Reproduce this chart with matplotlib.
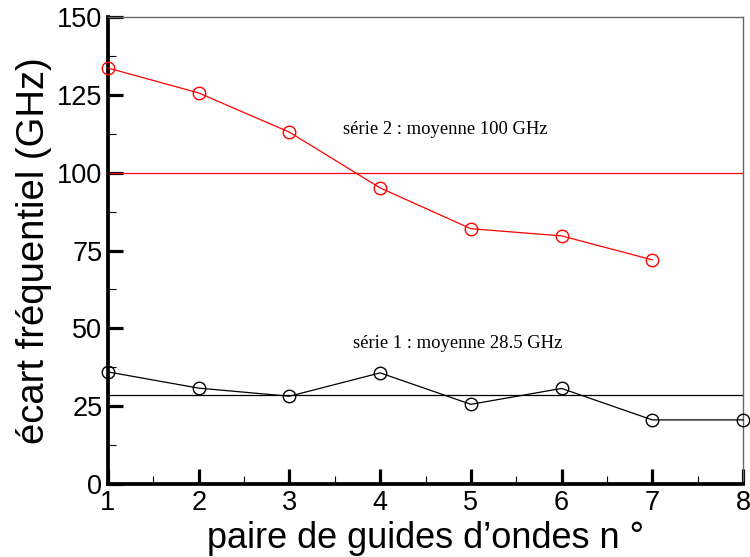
import matplotlib
matplotlib.use("Agg")
import matplotlib.pyplot as plt
from matplotlib.ticker import MultipleLocator

pairs_s2 = [1, 2, 3, 4, 5, 6, 7]
ecart_s2 = [133.6, 125.6, 113.0, 95.1, 82.0, 79.7, 72.0]
pairs_s1 = [1, 2, 3, 4, 5, 6, 7, 8]
ecart_s1 = [36.0, 30.8, 28.2, 35.7, 25.6, 30.7, 20.6, 20.6]
mean_s2 = 100
mean_s1 = 28.5
xticks = [1, 2, 3, 4, 5, 6, 7, 8]
yticks = [0, 25, 50, 75, 100, 125, 150]

sans = "Liberation Sans"
serif = "Liberation Serif"

fig = plt.figure(figsize=(7.5, 5.57), dpi=100)
ax = fig.add_axes([0.144, 0.131, 0.8467, 0.8385])

ax.axhline(mean_s2, color="red", lw=0.9)
ax.axhline(mean_s1, color="black", lw=0.9)
ax.plot(pairs_s2, ecart_s2, color="red", lw=0.9, marker="o", ms=9,
        mfc="none", mec="red", mew=1.0, clip_on=False, zorder=3)
ax.plot(pairs_s1, ecart_s1, color="black", lw=0.9, marker="o", ms=9,
        mfc="none", mec="black", mew=1.0, clip_on=False, zorder=3)

ax.text(4.715, 114.0, "série 2 : moyenne 100 GHz", family=serif, fontsize=13.4,
        ha="center", va="center")
ax.text(4.85, 45.0, "série 1 : moyenne 28.5 GHz", family=serif, fontsize=13.4,
        ha="center", va="center")

ax.set_xlim(1, 8)
ax.set_ylim(0, 150)
ax.set_xticks(xticks)
ax.set_yticks(yticks)
ax.xaxis.set_minor_locator(MultipleLocator(0.5))
ax.yaxis.set_minor_locator(MultipleLocator(12.5))
ax.tick_params(which="major", direction="in", length=11, width=2.3,
               top=False, right=False, labelsize=19.5, pad=4)
ax.tick_params(which="minor", direction="in", length=5.5, width=0.8,
               top=False, right=False)
for lab in ax.get_xticklabels() + ax.get_yticklabels():
    lab.set_family(sans)

for s in ["left", "bottom"]:
    ax.spines[s].set_linewidth(2.7)
    ax.spines[s].set_color("black")
for s in ["top", "right"]:
    ax.spines[s].set_linewidth(1.0)
    ax.spines[s].set_color("#666666")

ax.set_xlabel("paire de guides d’ondes n °", family=sans, fontsize=26, labelpad=4)
ax.set_ylabel("écart fréquentiel (GHz)", family=sans, fontsize=27.5, labelpad=4)

fig.savefig("out.png", dpi=100)
